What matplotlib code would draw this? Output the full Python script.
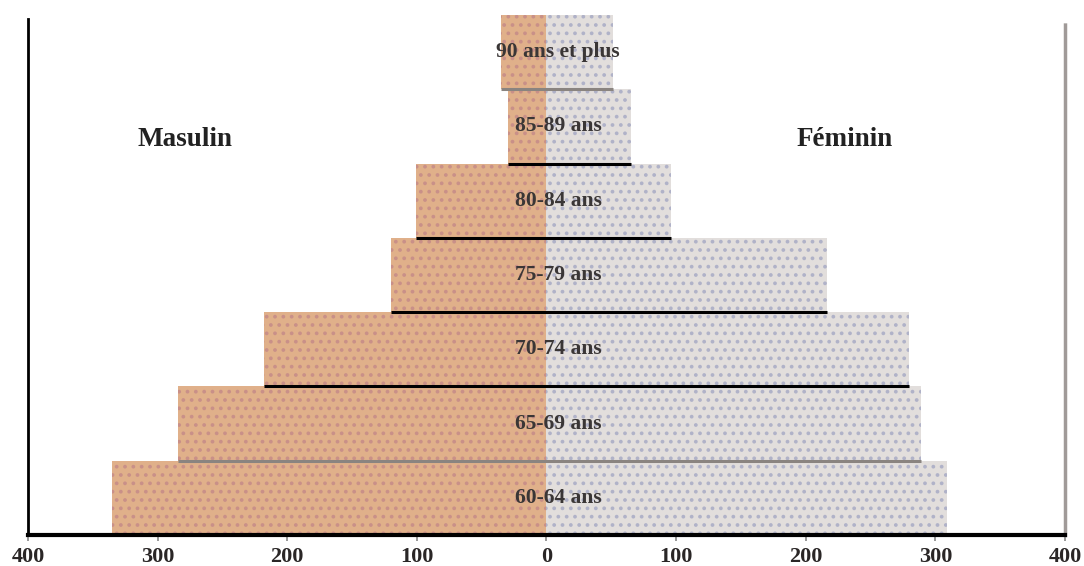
import matplotlib
matplotlib.use("Agg")
import matplotlib.pyplot as plt

ages = ["60-64 ans", "65-69 ans", "70-74 ans", "75-79 ans", "80-84 ans", "85-89 ans", "90 ans et plus"]
masculin = [335, 284, 218, 120, 101, 30, 35]
feminin = [309, 289, 280, 216, 96, 65, 51]
sep_colors = [None, "#8a8480", "#000000", "#000000", "#000000", "#000000", "#8a8480"]
xticks = [-400, -300, -200, -100, 0, 100, 200, 300, 400]
xticklabels = ["400", "300", "200", "100", "0", "100", "200", "300", "400"]

plt.rcParams['hatch.linewidth'] = 1.5
fig = plt.figure(figsize=(10.84, 5.66), dpi=100)
ax = fig.add_axes([0.0258, 0.0548, 0.9567, 0.9187])

y = list(range(len(ages)))
ax.barh(y, [-m for m in masculin], height=1.0, color="#e0b08a", edgecolor="#c99088",
        linewidth=0, hatch="..")
ax.barh(y, feminin, height=1.0, color="#e2dedc", edgecolor="#b0b2c8",
        linewidth=0, hatch="..")

for i, c in enumerate(sep_colors):
    if c is None:
        continue
    ax.plot([-masculin[i], feminin[i]], [i - 0.5, i - 0.5], color=c, lw=2.2,
            solid_capstyle="butt", zorder=3)

for i, lab in enumerate(ages):
    ax.text(9, i, lab, ha="center", va="center", fontsize=15.5, family="Liberation Serif",
            fontweight="bold", color="#3a3636", zorder=4)

ax.text(-279, 4.82, "Masulin", ha="center", va="center", fontsize=19.5,
        family="Liberation Serif", fontweight="bold", color="#222222")
ax.text(230, 4.82, "Féminin", ha="center", va="center", fontsize=19.5,
        family="Liberation Serif", fontweight="bold", color="#222222")

ax.set_xlim(-400, 400)
ax.set_ylim(-0.5, 6.5)
ax.set_xticks(xticks)
ax.set_xticklabels(xticklabels, family="Liberation Serif", fontsize=16, fontweight="bold",
                   color="#2a2626")
ax.set_yticks([])
ax.tick_params(axis="x", length=4, width=1.2, color="#888888", pad=5)
ax.spines["top"].set_visible(False)
ax.spines["bottom"].set_linewidth(3)
ax.spines["left"].set_linewidth(2)
ax.spines["right"].set_color("#a09a98")
ax.spines["right"].set_linewidth(2.5)
ax.spines["right"].set_linestyle((0, (1, 1)))
ax.spines["left"].set_bounds(-0.5, 6.45)
ax.spines["right"].set_bounds(-0.5, 6.4)

fig.savefig("out.png", dpi=100)
